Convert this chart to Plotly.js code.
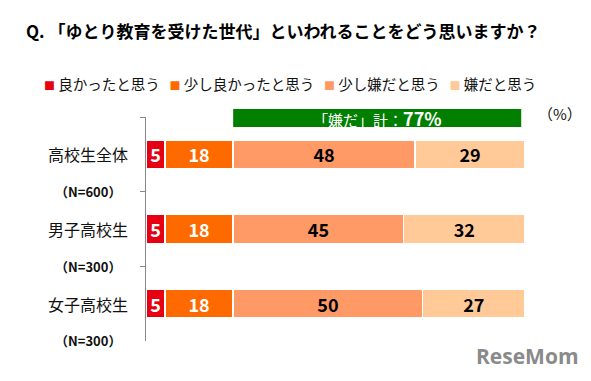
<!DOCTYPE html>
<html>
<head>
<meta charset="utf-8">
<script src="https://cdn.plot.ly/plotly-3.0.1.min.js"></script>
<style>html,body{margin:0;padding:0;background:#fff;}#chart{width:591px;height:381px;}</style>
</head>
<body>
<div id="chart"></div>
<script>
const categories = ['高校生全体', '男子高校生', '女子高校生'];
const sampleSizes = ['（N=600）', '（N=300）', '（N=300）'];
const seriesNames = ['良かったと思う', '少し良かったと思う', '少し嫌だと思う', '嫌だと思う'];
const good = [5, 5, 5];
const slightlyGood = [18, 18, 18];
const slightlyBad = [48, 45, 50];
const bad = [29, 32, 27];
const seriesValues = [good, slightlyGood, slightlyBad, bad];
const seriesColors = ['#e60012', '#ff6a00', '#ff9966', '#ffc998'];
const textColors = ['#ffffff', '#ffffff', '#000000', '#000000'];
const dislikeTotal = slightlyBad[0] + bad[0];

const FONT = '"Noto Sans CJK JP", "Noto Sans", sans-serif';

const traces = seriesNames.map((name, i) => ({
  type: 'bar',
  orientation: 'h',
  name: name,
  y: categories,
  x: seriesValues[i],
  marker: {color: seriesColors[i], line: {color: '#ffffff', width: 1.5}},
  texttemplate: '<b>%{x}</b>',
  textposition: 'inside',
  insidetextanchor: 'middle',
  textangle: 0,
  constraintext: 'none',
  textfont: {family: FONT, size: 18, color: textColors[i]},
  hoverinfo: 'skip'
}));

const annotations = [];
categories.forEach((c, i) => {
  annotations.push({
    xref: 'paper', yref: 'y', x: -0.153, y: c, xanchor: 'center', yanchor: 'middle',
    text: c, showarrow: false, font: {family: FONT, size: 16, color: '#111'}
  });
  annotations.push({
    xref: 'paper', yref: 'y', x: -0.153, y: c, yshift: -37, xanchor: 'center', yanchor: 'middle',
    text: '<b>' + sampleSizes[i] + '</b>', showarrow: false, font: {family: FONT, size: 13, color: '#111'}
  });
});

// legend line
const legendText = seriesNames.map((n, i) =>
  '<span style="color:' + seriesColors[i] + ';font-size:11px">■</span>\u00a0' + n
).join('\u00a0\u00a0\u00a0');
annotations.push({
  xref: 'paper', yref: 'paper', x: (290 - 146) / 379, y: (341 - 83) / 224,
  xanchor: 'center', yanchor: 'middle', text: legendText, showarrow: false,
  font: {family: FONT, size: 14.5, color: '#111'}
});

// dislike total box label
annotations.push({
  xref: 'x', yref: 'paper', x: (good[0] + slightlyGood[0] + 99) / 2, y: (341 - 117.5) / 224,
  xanchor: 'center', yanchor: 'middle',
  text: '<span style="font-size:15px">「嫌だ」計：</span><b>' + dislikeTotal + '%</b>',
  showarrow: false, font: {family: FONT, size: 18, color: '#ffffff'}
});
annotations.push({
  xref: 'paper', yref: 'paper', x: (560 - 146) / 379, y: (341 - 114) / 224,
  xanchor: 'center', yanchor: 'middle', text: '（%）', showarrow: false,
  font: {family: FONT, size: 15, color: '#111'}
});
// watermark
annotations.push({
  xref: 'paper', yref: 'paper', x: (527 - 146) / 379, y: (341 - 356) / 224,
  xanchor: 'center', yanchor: 'middle', text: '<b>ReseMom</b>', showarrow: false,
  font: {family: '"Open Sans", sans-serif', size: 21, color: '#8a8a8a'}
});

const layout = {
  width: 591, height: 381,
  margin: {l: 146, r: 66, t: 117, b: 40, pad: 0},
  paper_bgcolor: '#ffffff', plot_bgcolor: '#ffffff',
  barmode: 'stack', bargap: 0.61,
  showlegend: false,
  title: {
    text: '<b>Q. 「ゆとり教育を受けた世代」といわれることをどう思いますか？</b>',
    x: 26 / 591, xanchor: 'left', xref: 'container',
    y: 1 - 32 / 381, yanchor: 'middle', yref: 'container',
    font: {family: FONT, size: 17, color: '#000'}
  },
  xaxis: {range: [0, 100], visible: false, fixedrange: true},
  yaxis: {
    type: 'category', range: [2.5, -0.5], tickson: 'boundaries',
    ticks: 'outside', ticklen: 5, tickcolor: '#888', tickwidth: 1,
    showticklabels: false, showline: true, linecolor: '#888', linewidth: 1,
    showgrid: false, zeroline: false, fixedrange: true
  },
  shapes: [{
    type: 'rect', xref: 'x', yref: 'paper',
    x0: good[0] + slightlyGood[0], x1: 99,
    y0: (341 - 127) / 224, y1: (341 - 109) / 224,
    fillcolor: '#007f00', line: {width: 0}, layer: 'above'
  }],
  annotations: annotations
};

Plotly.newPlot('chart', traces, layout, {staticPlot: true, displayModeBar: false});
</script>
</body>
</html>
